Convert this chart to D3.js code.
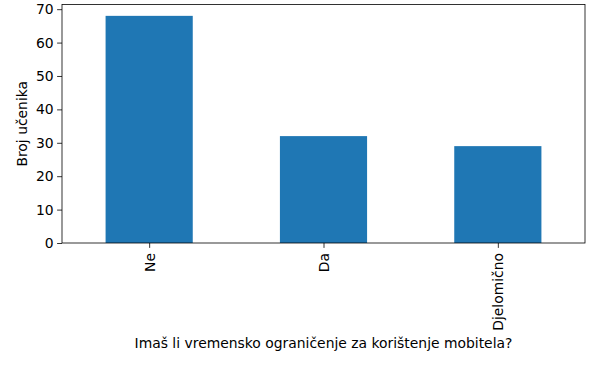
<!DOCTYPE html>
<html>
<head>
<meta charset="utf-8">
<script src="https://cdn.jsdelivr.net/npm/d3@7"></script>
<style>
  body { margin: 0; background: #fff; }
  text { font-family: "DejaVu Sans", sans-serif; }
</style>
</head>
<body>
<svg id="chart" width="600" height="366"></svg>
<script>
const categories = ['Ne', 'Da', 'Djelomično'];
const counts = [68, 32, 29];
const yTicks = [0, 10, 20, 30, 40, 50, 60, 70];
const xTitle = 'Imaš li vremensko ograničenje za korištenje mobitela?';
const yTitle = 'Broj učenika';

const svg = d3.select('#chart');
const margin = { top: 4.5, right: 15, bottom: 123, left: 62 };
const width = 600 - margin.left - margin.right;
const height = 366 - margin.top - margin.bottom;
const fontSize = '13.9px';

const chart = svg.append('g')
  .attr('transform', `translate(${margin.left}, ${margin.top})`);

const xScale = d3.scaleLinear()
  .domain([-0.5, categories.length - 0.5])
  .range([0, width]);

const yScale = d3.scaleLinear()
  .domain([0, d3.max(counts) * 1.05])
  .range([height, 0]);

chart.selectAll('rect')
  .data(categories)
  .enter()
  .append('rect')
  .attr('x', (d, i) => xScale(i - 0.25))
  .attr('y', (d, i) => yScale(counts[i]))
  .attr('width', xScale(0.25) - xScale(-0.25))
  .attr('height', (d, i) => height - yScale(counts[i]))
  .attr('fill', '#1f77b4');

// y axis
const yAxis = chart.append('g')
  .call(d3.axisLeft(yScale).tickValues(yTicks).tickSize(4.9).tickPadding(3.5));
yAxis.select('.domain').remove();
yAxis.selectAll('text')
  .style('font-size', fontSize)
  .attr('fill', '#000');
yAxis.selectAll('line').attr('stroke', '#000').attr('stroke-width', 0.8);

// x axis
const xAxis = chart.append('g')
  .attr('transform', `translate(0, ${height})`)
  .call(d3.axisBottom(xScale)
    .tickValues(d3.range(categories.length))
    .tickFormat(i => categories[i])
    .tickSize(4.9));
xAxis.select('.domain').remove();
xAxis.selectAll('line').attr('stroke', '#000').attr('stroke-width', 0.8);
xAxis.selectAll('text')
  .style('font-size', fontSize)
  .attr('fill', '#000')
  .attr('text-anchor', 'end')
  .attr('dy', null)
  .attr('dominant-baseline', 'central')
  .attr('transform', 'translate(0, 10) rotate(-90)')
  .attr('x', 0)
  .attr('y', 0);

// frame
chart.append('rect')
  .attr('x', 0)
  .attr('y', 0)
  .attr('width', width)
  .attr('height', height)
  .attr('fill', 'none')
  .attr('stroke', '#000')
  .attr('stroke-width', 0.8);

svg.append('text')
  .attr('x', margin.left + width / 2)
  .attr('y', 348)
  .attr('text-anchor', 'middle')
  .style('font-size', fontSize)
  .text(xTitle);

svg.append('text')
  .attr('transform', `translate(27, ${margin.top + height / 2}) rotate(-90)`)
  .attr('text-anchor', 'middle')
  .style('font-size', fontSize)
  .text(yTitle);
</script>
</body>
</html>
